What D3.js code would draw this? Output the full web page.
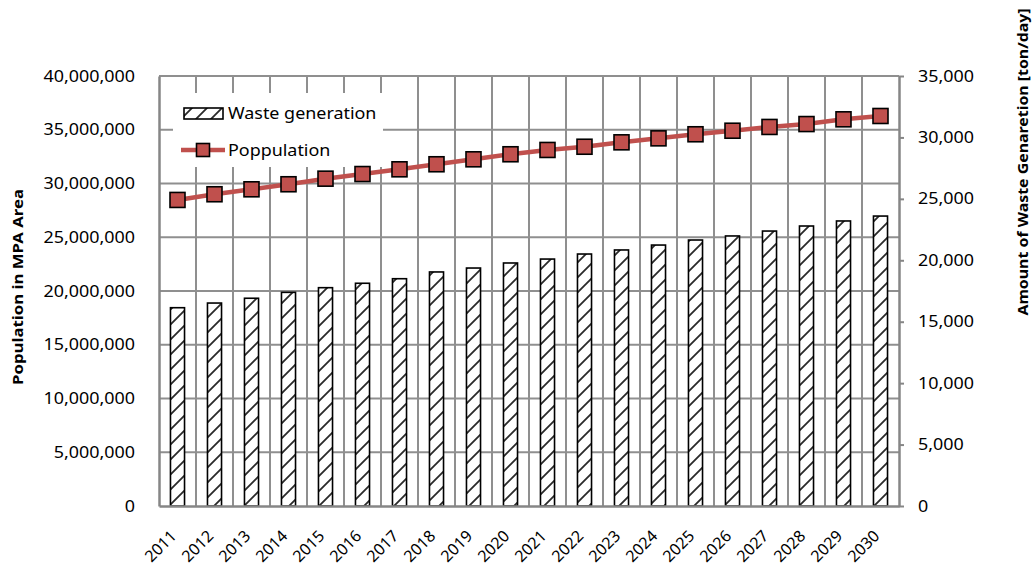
<!DOCTYPE html>
<html>
<head>
<meta charset="utf-8">
<script src="https://cdn.jsdelivr.net/npm/d3@7/dist/d3.min.js"></script>
<style>
  html, body { margin: 0; padding: 0; background: #fff; }
  svg { display: block; font-family: "Noto Sans", "Open Sans", sans-serif; }
</style>
</head>
<body>
<svg id="chart" width="1033" height="567"></svg>
<script>
// Projected population and daily waste generation, 2011–2030
const years = ["2011","2012","2013","2014","2015","2016","2017","2018","2019","2020",
               "2021","2022","2023","2024","2025","2026","2027","2028","2029","2030"];
const population = [28470000, 29000000, 29460000, 29930000, 30450000, 30880000, 31320000,
                    31790000, 32250000, 32720000, 33120000, 33420000, 33830000, 34200000,
                    34580000, 34910000, 35260000, 35530000, 35970000, 36280000];
const waste = [16140, 16520, 16910, 17390, 17770, 18130, 18500, 19050, 19370, 19780,
               20100, 20510, 20840, 21240, 21650, 21980, 22380, 22790, 23200, 23600];
const leftTicks = [0, 5000000, 10000000, 15000000, 20000000, 25000000, 30000000, 35000000, 40000000];
const rightTicks = [0, 5000, 10000, 15000, 20000, 25000, 30000, 35000];
const seriesNames = ["Waste generation", "Poppulation"];
const leftTitle = "Population in MPA Area";
const rightTitle = "Amount of Waste Genaretion [ton/day]";

const svg = d3.select("#chart");
const plot = { left: 159, right: 899, top: 76, bottom: 506 };
const gridColor = "#8f8f8f";
const lineColor = "#c0504d";
const textScale = 1.12;

// Category slots (gridlines) and narrower bars inside them
const xCat = d3.scaleBand().domain(years).range([plot.left, plot.right]).padding(0);
const xBar = d3.scaleBand().domain(years).range([plot.left, plot.right])
  .paddingInner(0.62).paddingOuter(0.31);
const yLeft = d3.scaleLinear().domain([0, 40000000]).range([plot.bottom, plot.top]);
const yRight = d3.scaleLinear().domain([0, 35000]).range([plot.bottom, plot.top]);

// Diagonal hatch fill for the bars
const defs = svg.append("defs");
const pat = defs.append("pattern")
  .attr("id", "hatch").attr("patternUnits", "userSpaceOnUse")
  .attr("width", 15).attr("height", 15);
pat.append("rect").attr("width", 15).attr("height", 15).attr("fill", "#fff");
pat.append("path")
  .attr("d", "M-4,19 L19,-4 M-4,4 L4,-4 M11,19 L19,11")
  .attr("stroke", "#2a2a2a").attr("stroke-width", 1.8).attr("fill", "none");

// Gridlines
const grid = svg.append("g");
grid.selectAll("line.h").data(leftTicks.slice(1)).join("line")
  .attr("x1", plot.left).attr("x2", plot.right)
  .attr("y1", d => yLeft(d)).attr("y2", d => yLeft(d))
  .attr("stroke", gridColor).attr("stroke-width", 2);
grid.selectAll("line.v").data(years.slice(1)).join("line")
  .attr("x1", d => xCat(d)).attr("x2", d => xCat(d))
  .attr("y1", plot.top).attr("y2", plot.bottom)
  .attr("stroke", gridColor).attr("stroke-width", 2);

// Legend background sits over the gridlines
const legend = svg.append("g");
legend.append("rect")
  .attr("x", 173).attr("y", 93).attr("width", 210).attr("height", 74)
  .attr("fill", "#fff");

// Bars (right axis)
svg.append("g").selectAll("rect").data(years).join("rect")
  .attr("x", d => xBar(d))
  .attr("width", xBar.bandwidth())
  .attr("y", (d, i) => yRight(waste[i]))
  .attr("height", (d, i) => plot.bottom - yRight(waste[i]))
  .attr("fill", "url(#hatch)").attr("stroke", "#000").attr("stroke-width", 1.6);

// Axes
function stretchText(sel, anchorX) {
  sel.each(function () {
    d3.select(this).attr("x", 0)
      .attr("transform", `translate(${anchorX},0) scale(${textScale},1)`);
  });
}
const axL = svg.append("g").attr("transform", `translate(${plot.left},0)`)
  .call(d3.axisLeft(yLeft).tickValues(leftTicks).tickFormat(d3.format(",")).tickSize(0).tickPadding(24));
axL.select(".domain").attr("stroke", "#868686").attr("stroke-width", 2.5);
axL.selectAll("text").attr("font-size", 16).attr("fill", "#000").attr("font-family", "Noto Sans");
stretchText(axL.selectAll("text"), -24);

const axR = svg.append("g").attr("transform", `translate(${plot.right},0)`)
  .call(d3.axisRight(yRight).tickValues(rightTicks).tickFormat(d3.format(",")).tickSizeInner(5).tickSizeOuter(0).tickPadding(14));
axR.select(".domain").attr("stroke", "#868686").attr("stroke-width", 2.5);
axR.selectAll(".tick line").attr("stroke", "#868686").attr("stroke-width", 2);
axR.selectAll("text").attr("font-size", 16).attr("fill", "#000").attr("font-family", "Noto Sans");
stretchText(axR.selectAll("text"), 19);

// Bottom axis line and rotated year labels
const axB = svg.append("g").attr("transform", `translate(0,${plot.bottom})`)
  .call(d3.axisBottom(xCat).tickSize(0).tickPadding(0));
axB.select(".domain").attr("stroke", "#868686").attr("stroke-width", 2.5);
axB.selectAll("text")
  .attr("font-size", 16).attr("fill", "#000").attr("font-family", "Noto Sans")
  .attr("text-anchor", "end").attr("dy", 0).attr("y", 0)
  .attr("transform", "translate(0,31) rotate(-45)");

// Population line (left axis)
const line = d3.line().x((d, i) => xCat(years[i]) + xCat.bandwidth() / 2).y(d => yLeft(d));
svg.append("path").datum(population)
  .attr("d", line).attr("fill", "none")
  .attr("stroke", lineColor).attr("stroke-width", 4.5);
const mk = 15;
svg.append("g").selectAll("rect").data(population).join("rect")
  .attr("x", (d, i) => xCat(years[i]) + xCat.bandwidth() / 2 - mk / 2)
  .attr("y", d => yLeft(d) - mk / 2)
  .attr("width", mk).attr("height", mk)
  .attr("fill", lineColor).attr("stroke", "#000").attr("stroke-width", 1.6);

// Legend entries
legend.append("rect")
  .attr("x", 184).attr("y", 108).attr("width", 39).attr("height", 11)
  .attr("fill", "url(#hatch)").attr("stroke", "#000").attr("stroke-width", 1.6);
legend.append("line")
  .attr("x1", 181).attr("x2", 225).attr("y1", 150).attr("y2", 150)
  .attr("stroke", lineColor).attr("stroke-width", 4.5);
legend.append("rect")
  .attr("x", 203 - 6.5).attr("y", 150 - 6.5).attr("width", 13).attr("height", 13)
  .attr("fill", lineColor).attr("stroke", "#000").attr("stroke-width", 1.6);
legend.selectAll("text.lg").data(seriesNames).join("text")
  .attr("font-size", 16).attr("fill", "#000")
  .attr("transform", (d, i) => `translate(228,${119 + i * 37}) scale(${textScale},1)`)
  .text(d => d);

// Axis titles
svg.append("text")
  .attr("transform", `translate(23,287) rotate(-90) scale(${textScale},1)`)
  .attr("text-anchor", "middle").attr("font-size", 15).attr("font-weight", "bold")
  .text(leftTitle);
svg.append("text")
  .attr("transform", `translate(1028,162) rotate(-90) scale(1.06,1)`)
  .attr("text-anchor", "middle").attr("font-size", 15).attr("font-weight", "bold")
  .text(rightTitle);
</script>
</body>
</html>
